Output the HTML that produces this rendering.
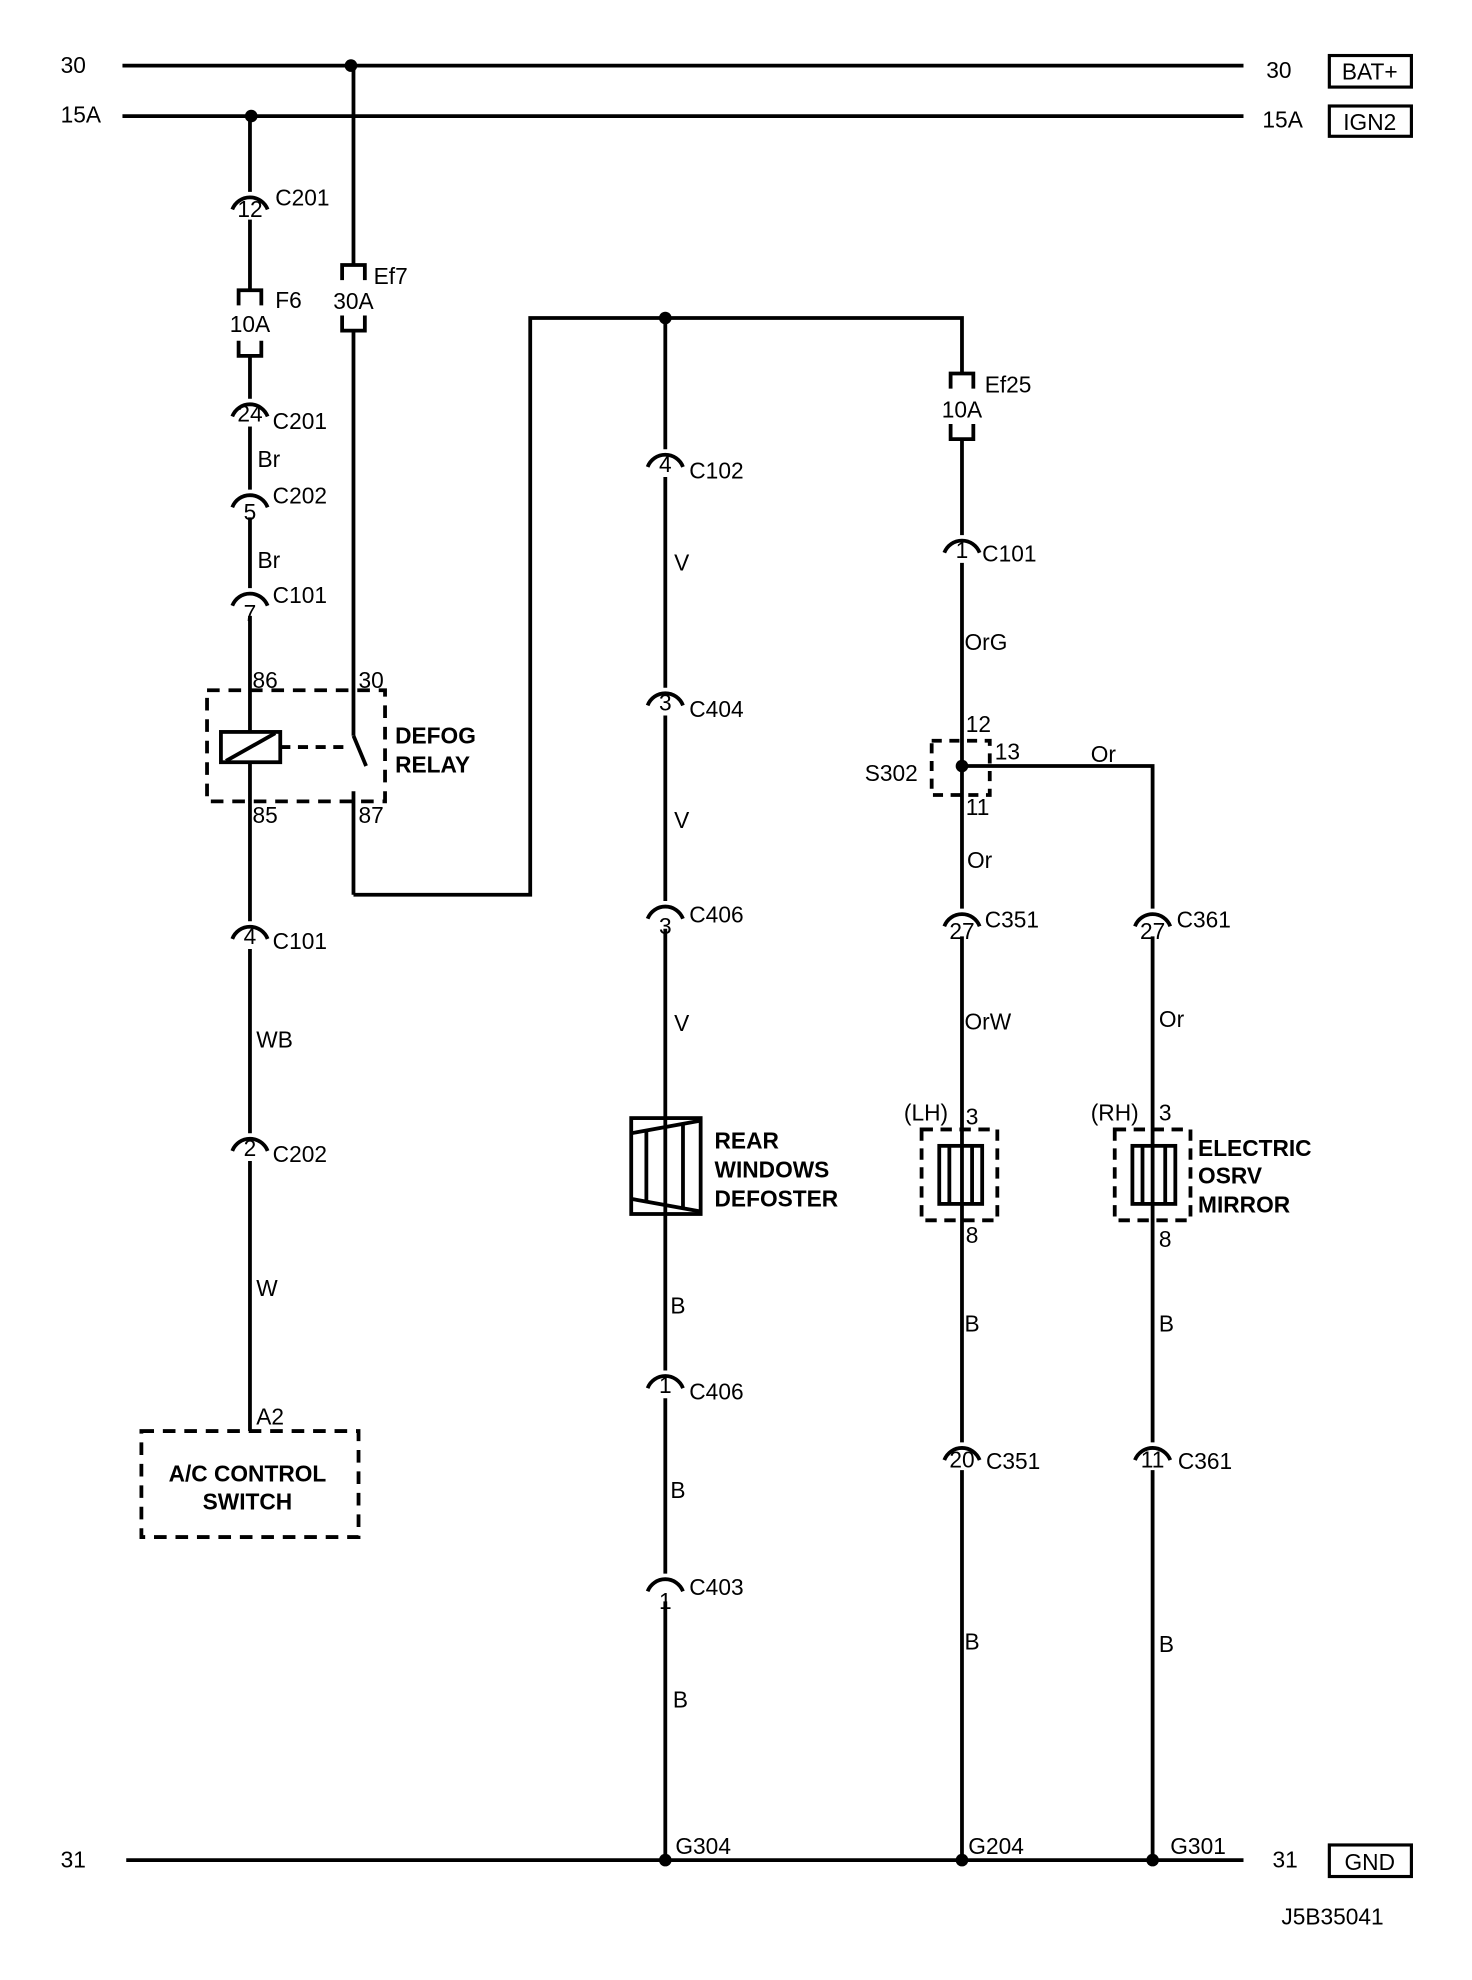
<!DOCTYPE html>
<html><head><meta charset="utf-8"><style>
html,body{margin:0;padding:0;background:#fff;}
svg{display:block}
text{font-family:"Liberation Sans",Arial,sans-serif;font-size:18px;fill:#000}
.b{font-weight:bold}
.c{text-anchor:middle}
</style></head><body>
<svg width="1472" height="1980" viewBox="0 0 1166 1569" preserveAspectRatio="none" xmlns="http://www.w3.org/2000/svg">
<g stroke="#000" stroke-width="3" fill="none">
<line x1="97" y1="52" x2="985" y2="52"/>
<line x1="97" y1="92" x2="985" y2="92"/>
<line x1="100" y1="1474" x2="985" y2="1474"/>
<line x1="198" y1="92" x2="198" y2="152"/>
<line x1="198" y1="174" x2="198" y2="230"/>
<line x1="198" y1="282" x2="198" y2="316"/>
<line x1="198" y1="338" x2="198" y2="388"/>
<line x1="198" y1="410" x2="198" y2="466"/>
<line x1="198" y1="488" x2="198" y2="730"/>
<line x1="198" y1="752" x2="198" y2="898"/>
<line x1="198" y1="920" x2="198" y2="1134"/>
<line x1="280" y1="52" x2="280" y2="210"/>
<line x1="280" y1="262" x2="280" y2="583"/>
<line x1="280" y1="583" x2="290" y2="607"/>
<line x1="280" y1="627" x2="280" y2="709"/>
<polyline points="280,709 420,709 420,252 762,252 762,296"/>
<rect x="164" y="547" width="141" height="88" stroke-dasharray="10,7"/>
<rect x="175" y="580" width="47" height="24" fill="#fff"/>
<line x1="179" y1="603" x2="218" y2="581"/>
<line x1="222" y1="592" x2="278" y2="592" stroke-dasharray="8,6"/>
<rect x="112" y="1134" width="172" height="84" stroke-dasharray="10,7"/>
<line x1="527" y1="252" x2="527" y2="356"/>
<line x1="527" y1="378" x2="527" y2="545"/>
<line x1="527" y1="567" x2="527" y2="714"/>
<line x1="527" y1="736" x2="527" y2="1086"/>
<line x1="527" y1="1108" x2="527" y2="1247"/>
<line x1="527" y1="1269" x2="527" y2="1474"/>
<rect x="500" y="886" width="55" height="76"/>
<polyline points="500,898 555,888"/>
<polyline points="500,950 555,960"/>
<line x1="512" y1="896" x2="512" y2="952"/>
<line x1="541" y1="891" x2="541" y2="957"/>
<line x1="762" y1="348" x2="762" y2="424"/>
<line x1="762" y1="446" x2="762" y2="720"/>
<line x1="762" y1="742" x2="762" y2="1143"/>
<line x1="762" y1="1165" x2="762" y2="1474"/>
<rect x="738" y="587" width="46" height="43" stroke-dasharray="8,6"/>
<polyline points="762,607 913,607 913,720"/>
<line x1="913" y1="742" x2="913" y2="1143"/>
<line x1="913" y1="1165" x2="913" y2="1474"/>
<rect x="730" y="895" width="60" height="72" stroke-dasharray="9,6"/>
<rect x="744" y="908" width="34" height="46"/>
<line x1="752" y1="908" x2="752" y2="954"/><line x1="770" y1="908" x2="770" y2="954"/>
<rect x="883" y="895" width="60" height="72" stroke-dasharray="9,6"/>
<rect x="897" y="908" width="34" height="46"/>
<line x1="905" y1="908" x2="905" y2="954"/><line x1="923" y1="908" x2="923" y2="954"/>
<path d="M189 242V230H207V242M189 270V282H207V270"/>
<path d="M271 222V210H289V222M271 250V262H289V250"/>
<path d="M753 308V296H771V308M753 336V348H771V336"/>
<path d="M184 166A15 15 0 0 1 212 166"/>
<path d="M184 330A15 15 0 0 1 212 330"/>
<path d="M184 402A15 15 0 0 1 212 402"/>
<path d="M184 480A15 15 0 0 1 212 480"/>
<path d="M184 744A15 15 0 0 1 212 744"/>
<path d="M184 912A15 15 0 0 1 212 912"/>
<path d="M513 370A15 15 0 0 1 541 370"/>
<path d="M513 559A15 15 0 0 1 541 559"/>
<path d="M513 728A15 15 0 0 1 541 728"/>
<path d="M513 1100A15 15 0 0 1 541 1100"/>
<path d="M513 1261A15 15 0 0 1 541 1261"/>
<path d="M748 438A15 15 0 0 1 776 438"/>
<path d="M748 734A15 15 0 0 1 776 734"/>
<path d="M899 734A15 15 0 0 1 927 734"/>
<path d="M748 1157A15 15 0 0 1 776 1157"/>
<path d="M899 1157A15 15 0 0 1 927 1157"/>
<rect x="1053" y="44" width="65" height="25" stroke-width="2.5"/>
<rect x="1053" y="84" width="65" height="24" stroke-width="2.5"/>
<rect x="1053" y="1462" width="65" height="25" stroke-width="2.5"/>
</g>
<g fill="#000">
<circle cx="278" cy="52" r="5"/><circle cx="199" cy="92" r="5"/>
<circle cx="527" cy="252" r="5"/><circle cx="762" cy="607" r="5"/>
<circle cx="527" cy="1474" r="5"/><circle cx="762" cy="1474" r="5"/><circle cx="913" cy="1474" r="5"/>
</g>
<text x="48" y="58">30</text><text x="48" y="97">15A</text><text x="48" y="1480">31</text>
<text x="1003" y="62">30</text><text x="1000" y="101">15A</text><text x="1008" y="1480">31</text>
<text x="1085" y="63" class="c">BAT+</text><text x="1085" y="103" class="c">IGN2</text><text x="1085" y="1482" class="c">GND</text>
<text x="1015" y="1525">J5B35041</text>
<text x="198" y="172" class="c">12</text><text x="218" y="163">C201</text>
<text x="218" y="244">F6</text><text x="198" y="263" class="c">10A</text>
<text x="296" y="225">Ef7</text><text x="280" y="245" class="c">30A</text>
<text x="198" y="334" class="c">24</text><text x="216" y="340">C201</text>
<text x="204" y="370">Br</text>
<text x="198" y="412" class="c">5</text><text x="216" y="399">C202</text>
<text x="204" y="450">Br</text>
<text x="198" y="492" class="c">7</text><text x="216" y="478">C101</text>
<text x="200" y="545">86</text><text x="284" y="545">30</text>
<text x="200" y="652">85</text><text x="284" y="652">87</text>
<text x="313" y="589" class="b">DEFOG</text><text x="313" y="612" class="b">RELAY</text>
<text x="198" y="748" class="c">4</text><text x="216" y="752">C101</text>
<text x="203" y="830">WB</text>
<text x="198" y="916" class="c">2</text><text x="216" y="921">C202</text>
<text x="203" y="1027">W</text>
<text x="203" y="1129">A2</text>
<text x="196" y="1174" class="c b">A/C CONTROL</text><text x="196" y="1196" class="c b">SWITCH</text>
<text x="527" y="374" class="c">4</text><text x="546" y="379">C102</text>
<text x="534" y="452">V</text>
<text x="527" y="563" class="c">3</text><text x="546" y="568">C404</text>
<text x="534" y="656">V</text>
<text x="527" y="740" class="c">3</text><text x="546" y="731">C406</text>
<text x="534" y="817">V</text>
<text x="566" y="910" class="b">REAR</text><text x="566" y="933" class="b">WINDOWS</text><text x="566" y="956" class="b">DEFOSTER</text>
<text x="531" y="1041">B</text>
<text x="527" y="1104" class="c">1</text><text x="546" y="1109">C406</text>
<text x="531" y="1187">B</text>
<text x="527" y="1275" class="c">1</text><text x="546" y="1264">C403</text>
<text x="533" y="1353">B</text>
<text x="535" y="1469">G304</text>
<text x="780" y="311">Ef25</text><text x="762" y="331" class="c">10A</text>
<text x="762" y="442" class="c">1</text><text x="778" y="445">C101</text>
<text x="764" y="515">OrG</text>
<text x="765" y="580">12</text><text x="788" y="602">13</text><text x="765" y="646">11</text>
<text x="685" y="619">S302</text><text x="864" y="604">Or</text>
<text x="766" y="688">Or</text>
<text x="762" y="744" class="c">27</text><text x="780" y="735">C351</text>
<text x="913" y="744" class="c">27</text><text x="932" y="735">C361</text>
<text x="764" y="816">OrW</text><text x="918" y="814">Or</text>
<text x="716" y="888">(LH)</text><text x="765" y="891">3</text><text x="765" y="985">8</text>
<text x="864" y="888">(RH)</text><text x="918" y="888">3</text><text x="918" y="988">8</text>
<text x="949" y="916" class="b">ELECTRIC</text><text x="949" y="938" class="b">OSRV</text><text x="949" y="961" class="b">MIRROR</text>
<text x="764" y="1055">B</text><text x="918" y="1055">B</text>
<text x="762" y="1163" class="c">20</text><text x="781" y="1164">C351</text>
<text x="913" y="1163" class="c">11</text><text x="933" y="1164">C361</text>
<text x="764" y="1307">B</text><text x="918" y="1309">B</text>
<text x="767" y="1469">G204</text><text x="927" y="1469">G301</text>
</svg>
</body></html>
